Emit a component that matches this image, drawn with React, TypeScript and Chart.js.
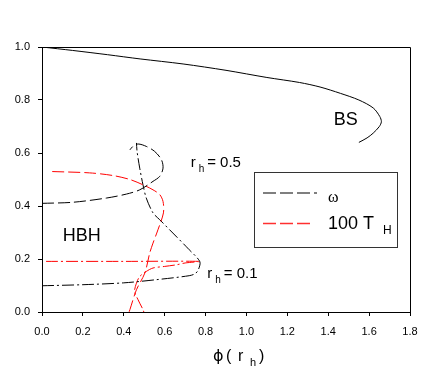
import React, { useEffect, useRef } from 'react';
import { Chart, registerables } from 'chart.js';

Chart.register(...registerables);

type P = [number, number];

// Boson star (solid black)
const bsCurve: P[] = [
  [0, 1.0], [0.15, 0.987], [0.32, 0.971], [0.48, 0.955], [0.69, 0.936], [0.9, 0.912],
  [1.1, 0.885], [1.26, 0.866], [1.36, 0.849], [1.46, 0.825], [1.55, 0.8], [1.62, 0.77],
  [1.652, 0.738], [1.66, 0.718], [1.65, 0.7], [1.62, 0.675], [1.59, 0.657], [1.55, 0.64],
];

// r_h = 0.5 : omega (black dashed)
const omegaRh05: P[] = [
  [0, 0.41], [0.15, 0.414], [0.315, 0.43], [0.413, 0.445], [0.478, 0.461], [0.543, 0.493],
  [0.576, 0.512], [0.592, 0.543], [0.584, 0.575], [0.551, 0.606], [0.51, 0.625],
  [0.47, 0.634], [0.445, 0.625], [0.43, 0.612],
];

// r_h = 0.5 : 100 T_H (red dashed)
const tempRh05: P[] = [
  [0.05, 0.53], [0.233, 0.525], [0.347, 0.515], [0.43, 0.5], [0.494, 0.48], [0.543, 0.461],
  [0.576, 0.443], [0.592, 0.417], [0.594, 0.374], [0.567, 0.31], [0.543, 0.26],
  [0.527, 0.223], [0.503, 0.147], [0.462, 0.084], [0.43, 0.009], [0.426, 0.0],
];

// r_h = 0.1 : omega (black dash-dot)
const omegaRh01: P[] = [
  [0, 0.099], [0.2, 0.103], [0.4, 0.11], [0.56, 0.122], [0.72, 0.137], [0.75, 0.145],
  [0.765, 0.16], [0.772, 0.19], [0.72, 0.235], [0.64, 0.298], [0.576, 0.348],
  [0.543, 0.374], [0.51, 0.43], [0.494, 0.48], [0.478, 0.543], [0.465, 0.606], [0.462, 0.638],
];

// r_h = 0.1 : 100 T_H (red dash-dot)
const tempRh01: P[] = [
  [0.02, 0.191], [0.4, 0.191], [0.772, 0.191], [0.7, 0.185], [0.657, 0.178], [0.6, 0.172],
  [0.543, 0.166], [0.51, 0.153], [0.478, 0.134], [0.462, 0.109], [0.453, 0.078],
  [0.47, 0.046], [0.494, 0.009], [0.498, 0.0],
];

const xTickValues = [0, 0.2, 0.4, 0.6, 0.8, 1.0, 1.2, 1.4, 1.6, 1.8];
const yTickValues = [0, 0.2, 0.4, 0.6, 0.8, 1.0];
const legendLabels = ['ω', '100 T'];
const legendSubs = ['', 'H'];

const SANS = '"Liberation Sans", Arial, Helvetica, sans-serif';
const SERIF = '"Liberation Serif", "Times New Roman", serif';
const f = (s: number, fam = SANS) => `${s}px ${fam}`;

const toXY = (arr: P[]) => arr.map(([x, y]) => ({ x, y }));

const annotate = {
  id: 'annotate',
  afterDraw(chart: any) {
    const { ctx, chartArea: ca, scales } = chart;
    const sx = (v: number) => scales.x.getPixelForValue(v);
    const sy = (v: number) => scales.y.getPixelForValue(v);
    ctx.save();
    // frame top & right
    ctx.strokeStyle = '#000';
    ctx.lineWidth = 1;
    ctx.setLineDash([]);
    ctx.beginPath();
    ctx.moveTo(ca.left, Math.round(ca.top) + 0.5);
    ctx.lineTo(Math.round(ca.right) + 0.5, Math.round(ca.top) + 0.5);
    ctx.lineTo(Math.round(ca.right) + 0.5, ca.bottom);
    ctx.stroke();

    ctx.fillStyle = '#000';
    ctx.textAlign = 'center';
    ctx.textBaseline = 'middle';
    ctx.font = f(18);
    ctx.fillText('BS', sx(1.486), sy(0.726));
    ctx.fillText('HBH', sx(0.194), sy(0.286));

    const rh = (x: number, y: number, val: string) => {
      ctx.textAlign = 'left';
      ctx.textBaseline = 'alphabetic';
      let px = sx(x);
      const py = sy(y);
      ctx.font = f(15);
      ctx.fillText('r', px, py);
      px += ctx.measureText('r').width + 3;
      ctx.font = f(10);
      ctx.fillText('h', px, py + 5);
      px += ctx.measureText('h').width + 3;
      ctx.font = f(15);
      ctx.fillText('= ' + val, px, py);
    };
    rh(0.727, 0.548, '0.5');
    rh(0.808, 0.129, '0.1');

    // x-axis title  ϕ( r_h )
    const cx = (ca.left + ca.right) / 2;
    const by = ca.bottom + 49;
    ctx.textAlign = 'left';
    ctx.textBaseline = 'alphabetic';
    ctx.font = f(16, '"DejaVu Sans", ' + SANS);
    ctx.fillText('ϕ', cx - 13, by);
    ctx.font = f(16);
    ctx.fillText('(', cx, by);
    ctx.fillText('r', cx + 12, by);
    ctx.fillText(')', cx + 33, by);
    ctx.font = f(11);
    ctx.fillText('h', cx + 24, by + 5);

    // legend
    const lx = ca.left + 212;
    const ly = ca.top + 125;
    ctx.strokeStyle = '#333';
    ctx.lineWidth = 1;
    ctx.strokeRect(Math.round(lx) + 0.5, Math.round(ly) + 0.5, 143, 75);
    const items = [
      { color: '#555', y: ly + 21, label: legendLabels[0], sub: legendSubs[0], font: f(16, SERIF), ty: ly + 30, end: 54 },
      { color: '#ff3030', y: ly + 51.5, label: legendLabels[1], sub: legendSubs[1], font: f(18), ty: ly + 56.5, end: 48 },
    ];
    items.forEach((it) => {
      ctx.strokeStyle = it.color;
      ctx.lineWidth = 1.3;
      ctx.setLineDash([13, 4]);
      ctx.beginPath();
      ctx.moveTo(lx + 9, it.y);
      ctx.lineTo(lx + 9 + it.end, it.y);
      ctx.stroke();
      ctx.setLineDash([]);
      ctx.fillStyle = '#000';
      ctx.font = it.font;
      ctx.textAlign = 'left';
      ctx.textBaseline = 'alphabetic';
      ctx.fillText(it.label, lx + 74, it.ty);
      if (it.sub) {
        const w = ctx.measureText(it.label).width;
        ctx.font = f(12);
        ctx.fillText(it.sub, lx + 74 + w + 9, it.ty + 5);
      }
    });
    ctx.restore();
  },
};

export default function App() {
  const ref = useRef<HTMLCanvasElement>(null);
  useEffect(() => {
    const canvas = ref.current!;
    const line = (data: P[], color: string, dash: number[]) => ({
      data: toXY(data),
      showLine: true,
      borderColor: color,
      backgroundColor: color,
      borderWidth: 1,
      borderDash: dash,
      pointRadius: 0,
      pointHoverRadius: 0,
      fill: false,
      tension: 0.3,
    });
    const chart = new Chart(canvas, {
      type: 'scatter',
      data: {
        datasets: [
          line(bsCurve, '#000', []),
          line(omegaRh05, '#000', [12, 4]),
          line(tempRh05, '#ff0000', [12, 4]),
          line(omegaRh01, '#000', [12, 3, 2, 3]),
          line(tempRh01, '#ff0000', [12, 3, 2, 3]),
        ] as any,
      },
      options: {
        responsive: false,
        animation: false,
        devicePixelRatio: 1,
        layout: { padding: { top: 47, right: 26, left: 0, bottom: 0 } },
        plugins: { legend: { display: false }, tooltip: { enabled: false } },
        scales: {
          x: {
            type: 'linear',
            min: 0,
            max: 1.8,
            afterBuildTicks: (s: any) => { s.ticks = xTickValues.map((v) => ({ value: v })); },
            afterFit: (s: any) => { s.height = 61; },
            grid: { display: true, drawOnChartArea: false, drawTicks: true, tickLength: 4, color: '#000' },
            border: { display: true, color: '#000', width: 1 },
            ticks: { color: '#000', font: { family: SANS, size: 11 }, padding: 9, autoSkip: false, maxRotation: 0, callback: (v: any) => Number(v).toFixed(1) },
          },
          y: {
            type: 'linear',
            min: 0,
            max: 1,
            afterBuildTicks: (s: any) => { s.ticks = yTickValues.map((v) => ({ value: v })); },
            afterFit: (s: any) => { s.width = 42; },
            grid: { display: true, drawOnChartArea: false, drawTicks: true, tickLength: 4, color: '#000' },
            border: { display: true, color: '#000', width: 1 },
            ticks: { color: '#000', font: { family: SANS, size: 11 }, padding: 8, autoSkip: false, callback: (v: any) => Number(v).toFixed(1) },
          },
        },
      } as any,
      plugins: [annotate],
    });
    return () => chart.destroy();
  }, []);
  return (
    <div style={{ position: 'fixed', left: 0, top: 0, width: 436, height: 373, background: '#fff' }}>
      <canvas ref={ref} width={436} height={373} style={{ display: 'block', width: 436, height: 373 }} />
    </div>
  );
}
